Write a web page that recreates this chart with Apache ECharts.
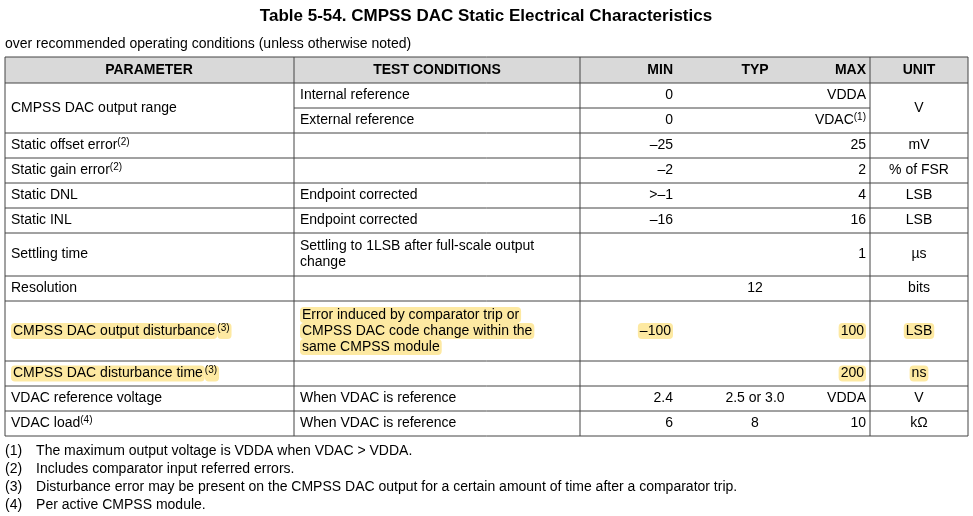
<!DOCTYPE html>
<html><head><meta charset="utf-8">
<script src="https://cdn.jsdelivr.net/npm/echarts@6/dist/echarts.min.js"></script>
<style>html,body{margin:0;padding:0;background:#fff}#c{width:973px;height:516px}</style>
</head><body><div id="c"></div>
<script>
const title = "Table 5-54. CMPSS DAC Static Electrical Characteristics";
const subtitle = "over recommended operating conditions (unless otherwise noted)";
const headers = ["PARAMETER","TEST CONDITIONS","MIN","TYP","MAX","UNIT"];
// rows: {s|..} superscript, {h|..} highlight
const params = ["CMPSS DAC output range","","Static offset error{s|(2)}","Static gain error{s|(2)}","Static DNL","Static INL","Settling time","Resolution","{h|CMPSS DAC output disturbance}{hs|(3)}","{h|CMPSS DAC disturbance time}{hs|(3)}","VDAC reference voltage","VDAC load{s|(4)}"];
const conds = ["Internal reference","External reference","","","Endpoint corrected","Endpoint corrected","Settling to 1LSB after full-scale output\nchange","","{h|Error induced by comparator trip or}\n{h|CMPSS DAC code change within the}\n{h|same CMPSS module}","","When VDAC is reference","When VDAC is reference"];
const mins = ["0","0","–25","–2",">–1","–16","","","{h|–100}","","2.4","6"];
const typs = ["","","","","","","","12","","","2.5 or 3.0","8"];
const maxs = ["VDDA","VDAC{s|(1)}","25","2","4","16","1","","{h|100}","{h|200}","VDDA","10"];
const units = ["V","","mV","% of FSR","LSB","LSB","µs","bits","{h|LSB}","{h|ns}","V","kΩ"];
const rowH = [25,25,25,25,25,25,43,25,60,25,25,25];
const footnotes = ["(1)\u2003The maximum output voltage is VDDA when VDAC > VDDA.","(2)\u2003Includes comparator input referred errors.","(3)\u2003Disturbance error may be present on the CMPSS DAC output for a certain amount of time after a comparator trip.","(4)\u2003Per active CMPSS module."];

const F = "'Liberation Sans', Arial, sans-serif";
const rich = {
  s:{fontSize:10,verticalAlign:'top',padding:[0,0,6,0],fontFamily:F,fill:'#000'},
  h:{backgroundColor:'#fde9a2',borderRadius:4,padding:[1,2],fontSize:14,fontFamily:F},
  hs:{backgroundColor:'#fde9a2',borderRadius:4,padding:[0,2,6,0],fontSize:10,fontFamily:F}
};
const L=5,R=968,top0=57,hH=26;
const cx=[5,294,580,870,968];
const g=[];
function txt(x,y,t,align,extra){g.push({type:'text',x:x,y:y,style:Object.assign({text:t,fontSize:14,fontFamily:F,fill:'#000',align:align||'left',verticalAlign:'middle',rich:rich,lineHeight:16},extra||{})});}
function line(x1,y1,x2,y2){g.push({type:'line',shape:{x1,y1,x2,y2},style:{stroke:'#444',lineWidth:1}});}
txt(486,16,title,'center',{fontSize:17,fontWeight:'bold'});
txt(5,44,subtitle,'left',{fontSize:14});
// header
g.push({type:'rect',shape:{x:L,y:top0,width:R-L,height:hH},style:{fill:'#d9d9d9'}});
const hy=top0+hH/2;
txt(149,hy,headers[0],'center',{fontWeight:'bold'});
txt(437,hy,headers[1],'center',{fontWeight:'bold'});
txt(673,hy,headers[2],'right',{fontWeight:'bold'});
txt(755,hy,headers[3],'center',{fontWeight:'bold'});
txt(866,hy,headers[4],'right',{fontWeight:'bold'});
txt(919,hy,headers[5],'center',{fontWeight:'bold'});
let y=top0+hH;
const ys=[y];
rowH.forEach(h=>{y+=h;ys.push(y);});
for(let i=0;i<rowH.length;i++){
  const yc=(ys[i]+ys[i+1])/2;
  let pyc=yc, uyc=yc;
  if(i===0){pyc=ys[1];uyc=ys[1];}
  if(params[i]) txt(11,pyc,params[i],'left');
  if(conds[i]) txt(300,yc,conds[i],'left');
  if(mins[i]) txt(673,yc,mins[i],'right');
  if(typs[i]) txt(755,yc,typs[i],'center');
  if(maxs[i]) txt(866,yc,maxs[i],'right');
  if(units[i]) txt(919,uyc,units[i],'center');
}
// lines
line(L,top0,R,top0);
for(let i=0;i<ys.length;i++){
  if(i===1) line(cx[1],ys[i],cx[3],ys[i]); else line(L,ys[i],R,ys[i]);
}
cx.forEach(x=>line(x,top0,x,ys[ys.length-1]));
footnotes.forEach((f,i)=>txt(5,451+i*18,f,'left',{fontSize:14}));
const chart=echarts.init(document.getElementById('c'));
chart.setOption({animation:false,graphic:g});
</script></body></html>
